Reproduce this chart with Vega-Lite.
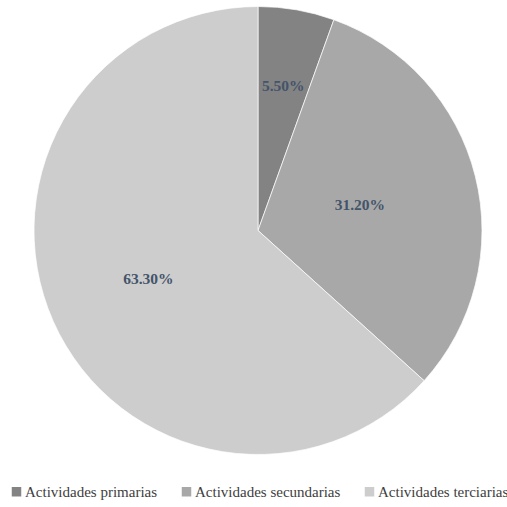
{
  "$schema": "https://vega.github.io/schema/vega-lite/v6.json",
  "width": 506,
  "height": 451,
  "padding": {"left": 5, "top": 5, "right": 0, "bottom": 0},
  "background": "white",
  "config": {"view": {"stroke": null}},
  "data": {"values": [
    {"sector": "Actividades primarias", "valor": 5.5, "etiqueta": "5.50%", "orden": 1},
    {"sector": "Actividades secundarias", "valor": 31.2, "etiqueta": "31.20%", "orden": 2},
    {"sector": "Actividades terciarias", "valor": 63.3, "etiqueta": "63.30%", "orden": 3}
  ]},
  "transform": [
    {"stack": "valor", "groupby": [], "sort": [{"field": "orden", "order": "ascending"}], "as": ["v0", "v1"]},
    {"calculate": "(datum.v0 + datum.v1) / 2", "as": "vmid"}
  ],
  "layer": [
    {
      "mark": {"type": "arc", "outerRadius": 224, "stroke": "white", "strokeWidth": 0.7},
      "encoding": {
        "theta": {"field": "v0", "type": "quantitative", "scale": {"domain": [0, 100]}},
        "theta2": {"field": "v1"},
        "color": {
          "field": "sector", "type": "nominal",
          "scale": {"domain": ["Actividades primarias", "Actividades secundarias", "Actividades terciarias"], "range": ["#838383", "#a8a8a8", "#cdcdcd"]},
          "legend": {
            "title": null, "orient": "none", "direction": "horizontal",
            "legendX": 4, "legendY": 479,
            "symbolType": "square", "symbolSize": 90, "symbolStrokeWidth": 0,
            "labelFont": "Liberation Serif", "labelFontSize": 15, "labelColor": "#404040",
            "labelOffset": 1, "columnPadding": 21, "labelLimit": 300
          }
        }
      }
    },
    {
      "transform": [{"filter": "datum.orden == 1"}],
      "mark": {"type": "text", "radius": 147, "font": "Liberation Serif", "fontWeight": "bold", "fontSize": 15.5, "fill": "#44546a"},
      "encoding": {
        "theta": {"field": "vmid", "type": "quantitative", "scale": {"domain": [0, 100]}},
        "text": {"field": "etiqueta", "type": "nominal"}
      }
    },
    {
      "transform": [{"filter": "datum.orden == 2"}],
      "mark": {"type": "text", "radius": 105, "font": "Liberation Serif", "fontWeight": "bold", "fontSize": 15.5, "fill": "#44546a"},
      "encoding": {
        "theta": {"field": "vmid", "type": "quantitative", "scale": {"domain": [0, 100]}},
        "text": {"field": "etiqueta", "type": "nominal"}
      }
    },
    {
      "transform": [{"filter": "datum.orden == 3"}],
      "mark": {"type": "text", "radius": 120, "font": "Liberation Serif", "fontWeight": "bold", "fontSize": 15.5, "fill": "#44546a"},
      "encoding": {
        "theta": {"field": "vmid", "type": "quantitative", "scale": {"domain": [0, 100]}},
        "text": {"field": "etiqueta", "type": "nominal"}
      }
    }
  ]
}
